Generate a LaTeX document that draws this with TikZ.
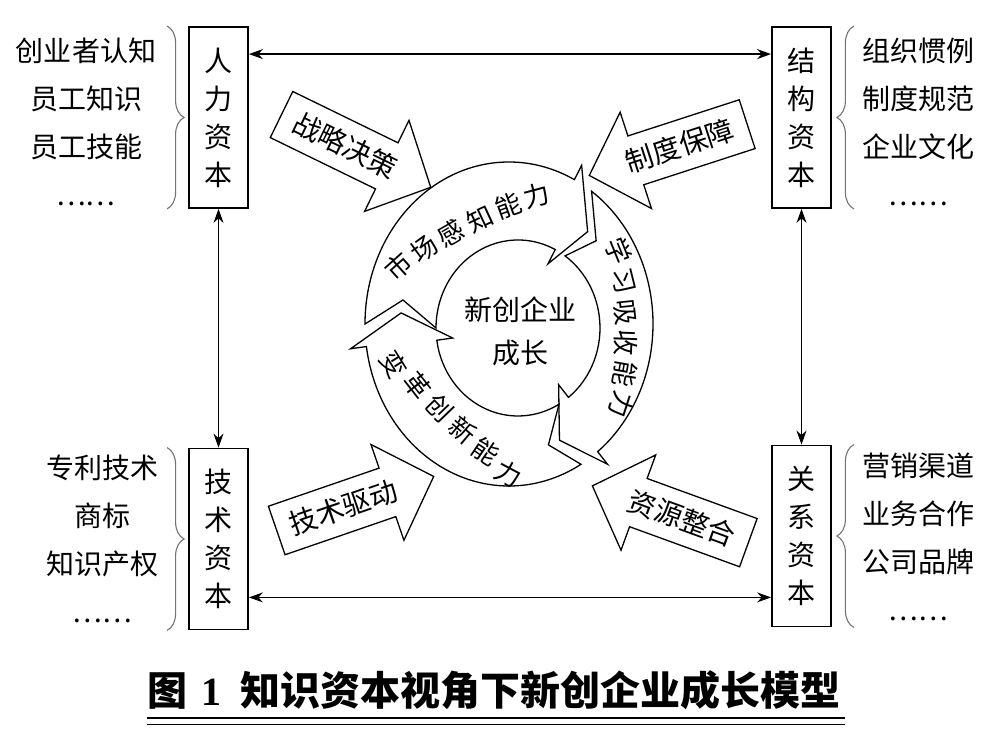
\documentclass[tikz,border=0pt]{standalone}
\usepackage{fontspec}
\setmainfont{Noto Sans CJK SC}
\newfontfamily\latinserif{Liberation Serif}
\usepackage{tikz}
\usetikzlibrary{shapes.arrows, arrows.meta, calc, decorations.pathreplacing}

\begin{document}
\begin{tikzpicture}[x=1pt,y=1pt,
  capbox/.style={draw, line width=1.8pt, minimum width=59pt, minimum height=181pt, inner sep=0pt, align=center, font=\fontsize{28}{38}\selectfont},
  listtext/.style={align=center, inner sep=0pt, font=\fontsize{28}{48}\selectfont},
  link/.style={line width=1.3pt, <->, >={Stealth[length=14pt,width=10pt]}},
  curly/.style={draw=black!55, line width=1.1pt, decorate, decoration={brace, amplitude=17pt}},
  pusharrow/.style={draw, line width=1.3pt, fill=white, shape=single arrow, single arrow head extend=25pt, single arrow tip angle=92, minimum height=166pt, inner xsep=6pt, inner ysep=0pt, text height=35.5pt, text depth=14.5pt, font=\fontsize{28}{28}\selectfont},
  ringarrow/.style={draw, line width=1.3pt, fill=white, line join=miter},
  ringtext/.style={inner sep=0pt, font=\fontsize{26}{26}\selectfont}]
\useasboundingbox (0,0) rectangle (1000,736);

\node[capbox] (hr) at (218.5,618.5) {人\\力\\资\\本};
\node[capbox] (sc) at (801.5,618.5) {结\\构\\资\\本};
\node[capbox] (tc) at (218.5,197) {技\\术\\资\\本};
\node[capbox] (rc) at (801.5,200) {关\\系\\资\\本};

\node[listtext] (hrlist) at (86,614) {创业者认知\\员工知识\\员工技能\\……};
\node[listtext] (sclist) at (918.5,614) {组织惯例\\制度规范\\企业文化\\……};
\node[listtext] (tclist) at (102,197.5) {专利技术\\商标\\知识产权\\……};
\node[listtext] (rclist) at (918,199) {营销渠道\\业务合作\\公司品牌\\……};

\draw[curly] ([xshift=-21pt]hr.north west) -- ([xshift=-21pt]hr.south west);
\draw[curly] ([xshift=-21pt]tc.north west) -- ([xshift=-21pt]tc.south west);
\draw[curly] ([xshift=22pt]sc.south east) -- ([xshift=22pt]sc.north east);
\draw[curly] ([xshift=22pt]rc.south east) -- ([xshift=22pt]rc.north east);

\draw[link] ([yshift=-28pt]hr.north east) -- ([yshift=-28pt]sc.north west);
\draw[link] ([yshift=33pt]tc.south east) -- ([yshift=33pt]tc.south east -| rc.west);
\draw[link] (hr.south) -- (tc.north);
\draw[link] (sc.south) -- (rc.north);

\coordinate (co) at (509,412);
\coordinate (ci) at (518,408);
\coordinate (cm) at (513.5,410);
\foreach \t/\h in {180/63, 55/-52, -60/-172}
  \draw[ringarrow] ($(co)+(\t:144 and 162)$) arc[start angle=\t, end angle=\h, x radius=144, y radius=162]
    -- ($(co)+(\h:160 and 178)$) -- ($(cm)+(\h-14:113 and 125)$) -- ($(ci)+(\h:66 and 72)$)
    -- ($(ci)+(\h:82 and 88)$) arc[start angle=\h, end angle=\t, x radius=82, y radius=88]
    -- ($(cm)+(\t-12:113 and 125)$) -- cycle;

\foreach \ch/\x/\y/\r [count=\i] in {市/398/470/42, 场/424/487/36, 感/451/503/30, 知/480/517/25, 能/508/530/20, 力/537/540/15}
  \node[ringtext, rotate=\r] (sense\i) at (\x,\y) {\ch};
\foreach \ch/\x/\y/\r [count=\i] in {学/619/485/-68, 习/623/455/-76, 吸/625/424/-84, 收/626/393/-92, 能/625/362/-100, 力/622/331/-108}
  \node[ringtext, rotate=\r] (learn\i) at (\x,\y) {\ch};
\foreach \ch/\x/\y/\r [count=\i] in {变/394/372/-58, 革/417/350/-52, 创/440/328/-46, 新/463/306/-40, 能/486/284/-34, 力/509/262/-28}
  \node[ringtext, rotate=\r] (change\i) at (\x,\y) {\ch};

\node[align=center, font=\fontsize{28}{43}\selectfont] (growth) at (520,404.5) {新创企业\\成长};

\node[pusharrow, rotate=-26] (strategy) at (345,590.5) {战略决策};
\node[pusharrow, shape border rotate=180, rotate=18] (system) at (680,590) {制度保障};
\node[pusharrow, rotate=19] (techdrive) at (343.5,228.5) {技术驱动};
\node[pusharrow, shape border rotate=180, rotate=-20] (resource) at (682,217.5) {资源整合};

\node[anchor=west, inner sep=0pt, font=\fontsize{40}{40}\selectfont\bfseries] (caption) at (147,46) {图\hspace{14pt}{\latinserif 1}\hspace{19pt}知识资本视角下新创企业成长模型};
\draw[line width=2.2pt] (147,18) -- (845,18);
\draw[line width=1pt] (147,11.5) -- (845,11.5);
\end{tikzpicture}
\end{document}
